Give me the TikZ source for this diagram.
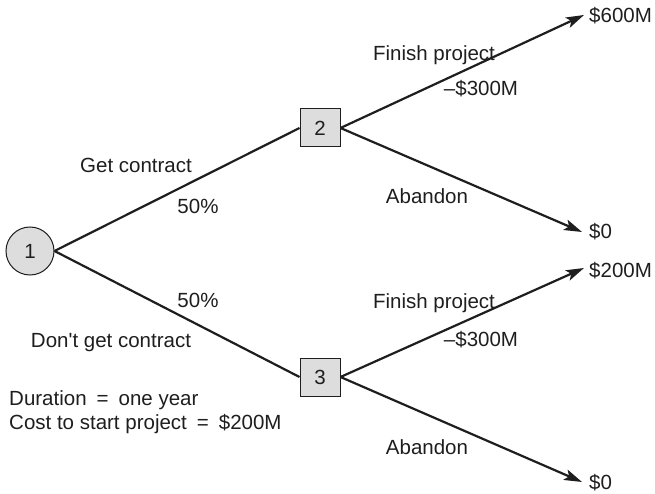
\documentclass[tikz,border=0pt]{standalone}
\usepackage{fontspec}
\setmainfont{Liberation Sans}
\usetikzlibrary{arrows.meta}
\definecolor{boxgray}{RGB}{221,221,221}
\definecolor{ink}{RGB}{30,30,30}
\begin{document}
\begin{tikzpicture}[x=1pt,y=-1pt,
  every node/.style={font=\fontsize{20.5}{24}\selectfont, text=ink},
  chance/.style={circle, draw=ink, fill=boxgray, line width=1pt, minimum size=48pt, inner sep=0pt},
  decision/.style={rectangle, draw=ink, fill=boxgray, line width=1pt, minimum width=40pt, minimum height=38pt, inner sep=0pt},
  branch/.style={draw=ink, line width=2.2pt},
  arr/.style={branch, -{Stealth[length=18pt,width=11pt,inset=4pt]}},
  lbl/.style={inner sep=0pt}]
\useasboundingbox (0,0) rectangle (655,494);
\node[chance] (n1) at (30,251) {1};
\node[decision] (n2) at (320,128) {2};
\node[decision] (n3) at (320,377) {3};
\coordinate (e1) at (584,15);
\coordinate (e2) at (582,232);
\coordinate (e3) at (584,268);
\coordinate (e4) at (582,482);
\draw[branch] (n1.east) -- (n2.west);
\draw[branch] (n1.east) -- (n3.west);
\draw[arr] (n2.east) -- (e1);
\draw[arr] (n2.east) -- (e2);
\draw[arr] (n3.east) -- (e3);
\draw[arr] (n3.east) -- (e4);
\node[lbl, anchor=west] (v1) at (589,16) {\$600M};
\node[lbl, anchor=west] (v2) at (589,232) {\$0};
\node[lbl, anchor=west] (v3) at (589,271) {\$200M};
\node[lbl, anchor=west] (v4) at (589,483) {\$0};
\node[lbl] (fp1) at (434,55) {Finish project};
\node[lbl] (c1) at (481,89) {–\$300M};
\node[lbl] (ab1) at (427,196) {Abandon};
\node[lbl] (gc) at (136,165) {Get contract};
\node[lbl] (p1) at (198,206) {50\%};
\node[lbl] (p2) at (198,300) {50\%};
\node[lbl] (dg) at (111,343) {Don\textquotesingle t get contract};
\node[lbl] (fp2) at (434,303) {Finish project};
\node[lbl] (c2) at (481,340) {–\$300M};
\node[lbl] (ab2) at (427,447) {Abandon};
\node[lbl, anchor=west] (d1) at (9,400) {Duration\hspace{10pt}=\hspace{10pt}one year};
\node[lbl, anchor=west] (d2) at (9,424) {Cost to start project\hspace{10pt}=\hspace{10pt}\$200M};
\end{tikzpicture}
\end{document}
